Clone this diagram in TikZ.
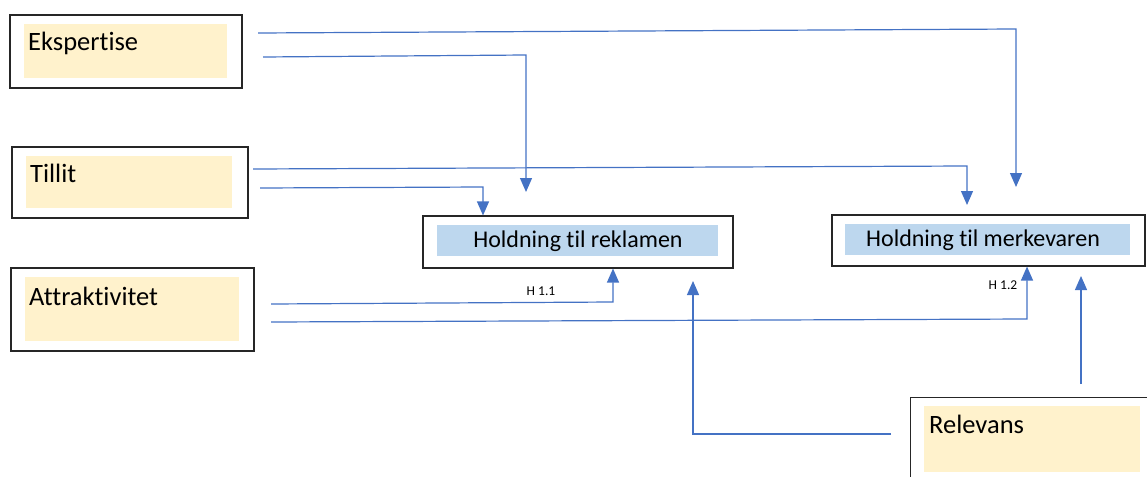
\documentclass[tikz,border=0pt]{standalone}
\usepackage{fontspec}
\setmainfont{Carlito}[Ligatures={NoCommon}]
\usetikzlibrary{arrows.meta}
\definecolor{lnblue}{HTML}{4472C4}
\definecolor{peach}{HTML}{FFF2CC}
\definecolor{lblue}{HTML}{BDD7EE}
\begin{document}
\begin{tikzpicture}[x=1pt,y=-1pt,
  outerbox/.style={draw=black!85,line width=1.1pt,fill=white,inner sep=0pt},
  peachbox/.style={fill=peach,inner sep=0pt},
  bluebox/.style={fill=lblue,inner sep=0pt},
  lbl/.style={anchor=west,inner sep=0pt,font=\fontsize{26.5}{30}\selectfont},
  clbl/.style={inner sep=0pt,font=\fontsize{24}{28}\selectfont},
  hlbl/.style={inner sep=0pt,font=\fontsize{13.5}{15}\selectfont},
  conn/.style={draw=lnblue,line width=1.2pt,-{Triangle[width=12pt,length=14pt]}},
  plain/.style={draw=lnblue,line width=1.2pt}]
\useasboundingbox (0,0) rectangle (1147,476);
% Ekspertise
\node[outerbox,minimum width=232,minimum height=73] (eksp) at (126,51.5) {};
\node[peachbox,minimum width=203,minimum height=54] (ekspf) at (125.5,51) {};
\node[lbl] (eksptxt) at (28,43) {Ekspertise};
% Tillit
\node[outerbox,minimum width=236,minimum height=71] (till) at (130,182.5) {};
\node[peachbox,minimum width=206,minimum height=52] (tillf) at (129,182) {};
\node[lbl] (tilltxt) at (30,173) {Tillit};
% Attraktivitet
\node[outerbox,minimum width=243,minimum height=83] (attr) at (132.5,309.5) {};
\node[peachbox,minimum width=214,minimum height=64] (attrf) at (132,309) {};
\node[lbl] (attrtxt) at (29,296) {Attraktivitet};
% Relevans
\node[outerbox,minimum width=250,minimum height=90,anchor=north west] (rel) at (910,397) {};
\node[peachbox,minimum width=216,minimum height=66,anchor=north west] (relf) at (924,406) {};
\node[lbl] (reltxt) at (929,424) {Relevans};
% Holdning til reklamen
\node[outerbox,minimum width=310,minimum height=52] (rekl) at (578,242) {};
\node[bluebox,minimum width=281,minimum height=31] (reklf) at (577.5,240.5) {};
\node[clbl] (rekltxt) at (578,241) {Holdning til reklamen};
% Holdning til merkevaren
\node[outerbox,minimum width=313,minimum height=51] (merk) at (988.5,240.5) {};
\node[bluebox,minimum width=285,minimum height=31] (merkf) at (987.5,239.5) {};
\node[clbl] (merktxt) at (983,240) {Holdning til merkevaren};
% labels
\node[hlbl] (h11) at (541,291) {H 1.1};
\node[hlbl] (h12) at (1003,285) {H 1.2};
% free ends and corners
\coordinate (e1) at (258,33);
\coordinate (e1c) at (1016,29);
\coordinate (e1t) at (1016,187);
\coordinate (e2) at (263,57);
\coordinate (e2c) at (526,55);
\coordinate (e2t) at (526,192);
\coordinate (t1) at (253,169);
\coordinate (t1c) at (967,166);
\coordinate (t1t) at (967,205);
\coordinate (t2) at (260,188);
\coordinate (t2c) at (483,187);
\coordinate (a1) at (271,304);
\coordinate (a1c) at (613,302);
\coordinate (a2) at (271,322);
\coordinate (a2c) at (1027,319);
\coordinate (r1) at (891,434);
\coordinate (r1c) at (693,434);
\coordinate (r1t) at (693,281);
\coordinate (r2) at (1081,384);
\coordinate (r2t) at (1081,276);
% connectors
\draw[conn] (e1) -- (e1c) -- (e1t);
\draw[conn] (e2) -- (e2c) -- (e2t);
\draw[conn] (t1) -- (t1c) -- (t1t);
\draw[conn] (t2) -- (t2c) -- (t2c |- rekl.north);
\draw[conn] (a1) -- (a1c) -- (a1c |- rekl.south);
\draw[conn] (a2) -- (a2c) -- (a2c |- merk.south);
\draw[conn] (r1) -- (r1c) -- (r1t);
\draw[conn] (r2) -- (r2t);
\end{tikzpicture}
\end{document}
